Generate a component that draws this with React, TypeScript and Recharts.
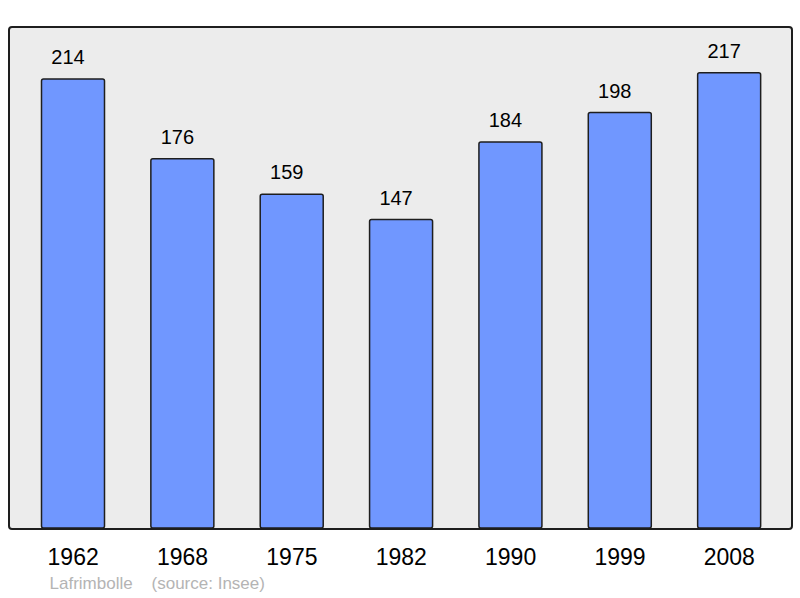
import React from "react";
import { BarChart, Bar, XAxis, YAxis, LabelList } from "recharts";

const years = ["1962", "1968", "1975", "1982", "1990", "1999", "2008"];
const population = [214, 176, 159, 147, 184, 198, 217];

const data = years.map((y, i) => ({ year: y, pop: population[i] }));

const FONT = '"Liberation Sans", Arial, sans-serif';

export default function App() {
  return (
    <div style={{ position: "absolute", left: 0, top: 0, width: 800, height: 598, background: "#fff", fontFamily: FONT }}>
      <div
        style={{
          position: "absolute",
          left: 8,
          top: 26,
          width: 781,
          height: 500,
          border: "2px solid #1e1e1e",
          borderRadius: 4,
          background: "#ececec",
        }}
      />
      <div style={{ position: "absolute", left: 0, top: 0 }}>
        <BarChart
          width={800}
          height={598}
          data={data}
          margin={{ top: 26.5, right: 16, bottom: 0, left: 18.5 }}
        >
          <YAxis hide domain={[0, 239]} />
          <XAxis
            dataKey="year"
            height={70}
            axisLine={false}
            tickLine={false}
            tickSize={0}
            tickMargin={21}
            tick={{ fill: "#000", fontSize: 23, fontFamily: FONT }}
          />
          <Bar
            dataKey="pop"
            barSize={63}
            fill="#7097ff"
            stroke="#1e1e1e"
            strokeWidth={1.5}
            radius={2}
            isAnimationActive={false}
          >
            <LabelList
              dataKey="pop"
              position="top"
              offset={15}
              dx={-5}
              fill="#000"
              fontSize={20}
              fontFamily={FONT}
            />
          </Bar>
        </BarChart>
      </div>
      <div
        style={{
          position: "absolute",
          left: 49.5,
          top: 575,
          fontSize: 17,
          lineHeight: "17px",
          color: "#b4b4b4",
          whiteSpace: "pre",
          fontFamily: FONT,
        }}
      >
        {"Lafrimbolle    (source: Insee)"}
      </div>
    </div>
  );
}
